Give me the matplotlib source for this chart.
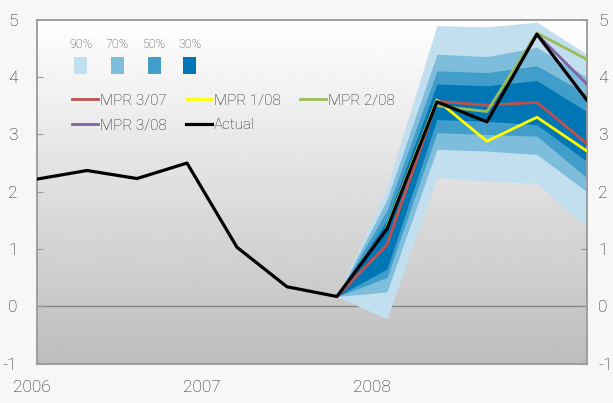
import numpy as np
import matplotlib
matplotlib.use('Agg')
import matplotlib.pyplot as plt
from matplotlib.patches import Rectangle

plt.rcParams['font.family'] = ['Roboto', 'DejaVu Sans']
plt.rcParams['font.weight'] = 'light'
plt.rcParams['axes.unicode_minus'] = False

# quarters shown on the x axis (index positions)
quarters = list(range(12))
actual = [2.22, 2.37, 2.23, 2.50, 1.03, 0.34, 0.17, 1.35, 3.57, 3.22, 4.75, 3.60]

# forecast paths
mpr_307_x = [6, 7, 8, 9, 10, 11]
mpr_307 = [0.17, 1.07, 3.58, 3.51, 3.56, 2.84]
mpr_108_x = [7, 8, 9, 10, 11]
mpr_108 = [1.38, 3.60, 2.88, 3.30, 2.71]
mpr_208_x = [8, 9, 10, 11]
mpr_208 = [3.50, 3.40, 4.77, 4.31]
mpr_308_x = [10, 11]
mpr_308 = [4.75, 3.88]

# uncertainty fan (MPR 3/07)
fan_x = [6, 7, 8, 9, 10, 11]
fan_90_hi = [0.17, 2.08, 4.90, 4.88, 4.96, 4.40]
fan_90_lo = [0.17, -0.22, 2.25, 2.18, 2.15, 1.37]
fan_70_hi = [0.17, 1.86, 4.40, 4.36, 4.52, 4.00]
fan_70_lo = [0.17, 0.25, 2.74, 2.71, 2.65, 2.00]
fan_50_hi = [0.17, 1.68, 4.11, 4.08, 4.20, 3.70]
fan_50_lo = [0.17, 0.50, 3.03, 3.00, 2.97, 2.24]
fan_30_hi = [0.17, 1.50, 3.88, 3.85, 3.94, 3.40]
fan_30_lo = [0.17, 0.65, 3.26, 3.23, 3.17, 2.53]

fan_labels = ['90%', '70%', '50%', '30%']
fan_colors = ['#c2dff0', '#7fbddc', '#419dca', '#0077b4']

year_labels = ['2006', '2007', '2008']
year_pos = [-0.11, 3.3, 6.7]
y_ticks = [-1, 0, 1, 2, 3, 4, 5]

text_col = '#222222'

fig = plt.figure(figsize=(6.13, 4.03), dpi=100, facecolor='#f7f7f7')
ax = fig.add_axes([0.0604, 0.098, 0.897, 0.8526])
ax.set_xlim(0, 11)
ax.set_ylim(-1, 5)

# background gradient white -> gray
grad = np.linspace(1.0, 0.74, 256).reshape(-1, 1)
ax.imshow(grad, cmap='gray', vmin=0, vmax=1, aspect='auto',
          extent=[0, 11, -1, 5], zorder=0, interpolation='bilinear')

ax.axhline(0, color='#858585', lw=1, zorder=1)

bands = [(fan_90_lo, fan_90_hi), (fan_70_lo, fan_70_hi),
         (fan_50_lo, fan_50_hi), (fan_30_lo, fan_30_hi)]
for (lo, hi), c in zip(bands, fan_colors):
    ax.fill_between(fan_x, lo, hi, color=c, lw=0, zorder=2)

l_red, = ax.plot(mpr_307_x, mpr_307, color='#c0504d', lw=2, zorder=3, label='MPR 3/07')
l_yel, = ax.plot(mpr_108_x, mpr_108, color='#ffff00', lw=2, zorder=3, label='MPR 1/08')
l_grn, = ax.plot(mpr_208_x, mpr_208, color='#9bbb59', lw=2, zorder=3, label='MPR 2/08')
l_pur, = ax.plot(mpr_308_x, mpr_308, color='#8064a2', lw=2, zorder=3, label='MPR 3/08')
l_act, = ax.plot(quarters, actual, color='black', lw=2.3, zorder=4, label='Actual')

leg = ax.legend(handles=[l_red, l_pur, l_yel, l_act, l_grn], ncol=3, frameon=False,
                loc='upper left', bbox_to_anchor=(0.052, 0.805), fontsize=11,
                handlelength=1.7, handletextpad=0.15, columnspacing=1.25,
                labelspacing=0.72, borderaxespad=0)
for t in leg.get_texts():
    t.set_color(text_col)

# fan chart legend: coloured squares with labels above
sq_x = [74, 111, 148, 183]
for lab, c, px in zip(fan_labels, fan_colors, sq_x):
    x0, y0 = (px - 37) / 550, (363.5 - 74) / 343.5
    ax.add_patch(Rectangle((x0, y0), 13 / 550, 17 / 343.5, transform=ax.transAxes,
                           color=c, lw=0, zorder=5))
    ax.text(x0 + 6.5 / 550, (363.5 - 45) / 343.5, lab, transform=ax.transAxes,
            ha='center', va='center', fontsize=9, color='#444444')

# axes styling
for s in ax.spines.values():
    s.set_color('#999999')
    s.set_linewidth(1.3)
ax.set_yticks(y_ticks)
ax.tick_params(axis='y', direction='in', length=4, color='#999999',
               labelsize=12.5, labelcolor=text_col, pad=14, right=True)

# right-hand labels sit closer to the axis
sec = ax.secondary_yaxis('right')
sec.set_yticks(y_ticks)
sec.spines['right'].set_visible(False)
sec.tick_params(axis='y', direction='in', length=4, color='#999999',
                labelsize=12.5, labelcolor=text_col, pad=8)

ax.set_xticks(year_pos[1:])
ax.set_xticklabels([])
ax.tick_params(axis='x', direction='in', length=4, color='#bbbbbb')
for lab, xp in zip(year_labels, year_pos):
    ax.text(xp, -1.42, lab, ha='center', va='center', fontsize=12.5,
            color=text_col, clip_on=False)

fig.savefig('out.png', dpi=100, facecolor=fig.get_facecolor())
